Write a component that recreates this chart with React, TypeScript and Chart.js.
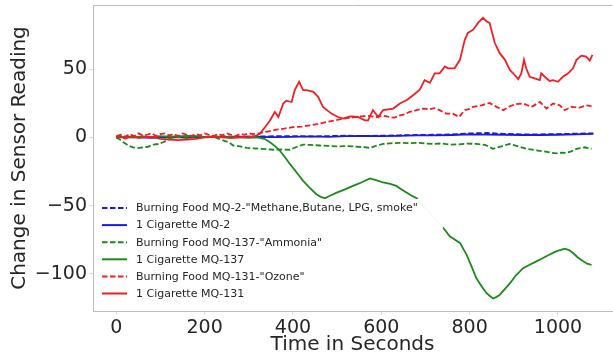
import React, { useEffect, useRef } from "react";
import { Chart, registerables } from "chart.js";

Chart.register(...registerables);

// ---------- DATA ----------
const seriesLabels = [
  'Burning Food MQ-2-"Methane,Butane, LPG, smoke"',
  "1 Cigarette MQ-2",
  'Burning Food MQ-137-"Ammonia"',
  "1 Cigarette MQ-137",
  'Burning Food MQ-131-"Ozone"',
  "1 Cigarette MQ-131",
];

const xTickValues = [0, 200, 400, 600, 800, 1000];
const yTickValues = [-100, -50, 0, 50];

const foodMQ2Time = [0, 40, 80, 120, 160, 200, 240, 280, 320, 360, 400, 440, 480, 520, 560, 600, 640, 680, 720, 760, 800, 840, 880, 920, 960, 1000, 1040, 1080];
const foodMQ2Vals = [0.2, 0.5, 0.3, 0.6, 0.4, 0.5, 0.8, 0.6, 0.8, 0.9, 1, 0.8, 1, 1.3, 1.1, 1.3, 1.6, 1.8, 2, 2.2, 3, 3.3, 2.6, 2.2, 2.3, 2.5, 2.8, 3];

const cigMQ2Time = [0, 40, 80, 120, 160, 200, 240, 280, 320, 360, 400, 440, 480, 520, 560, 600, 640, 680, 720, 760, 800, 840, 880, 920, 960, 1000, 1040, 1080];
const cigMQ2Vals = [0, 0.3, -0.3, 0.2, 0, 0.3, 0.5, 0.3, 0.5, 0.3, 0.5, 0.8, 0.5, 1, 1.2, 1, 1.2, 1.5, 1.6, 1.8, 2.2, 2.1, 2, 1.8, 1.8, 2, 2.3, 2.6];

const foodMQ137Time = [0, 8, 16, 28, 38, 50, 61, 72, 84, 95, 106, 115, 125, 140, 160, 180, 200, 220, 242, 255, 265, 280, 295, 310, 325, 340, 355, 375, 393, 408, 423, 440, 461, 480, 499, 518, 536, 555, 574, 590, 604, 620, 642, 665, 687, 700, 717, 735, 755, 775, 795, 815, 835, 853, 872, 891, 910, 928, 947, 966, 981, 996, 1008, 1019, 1030, 1042, 1060, 1076];
const foodMQ137Vals = [0, -1.5, -3.5, -6, -7.2, -7.8, -7.2, -6.8, -5.2, -4.8, -3.5, -2, -0.2, 0.5, -0.5, 0.8, 0, 0.5, -2.2, -3.5, -5.9, -6.5, -7.6, -8, -8.3, -8.6, -9, -8.8, -9, -7, -5.2, -5.5, -5.9, -6.2, -6.6, -6.3, -6.6, -7, -7.6, -6, -4.7, -4.3, -3.9, -4.2, -3.9, -4.5, -4.7, -4.4, -5.2, -5, -4.5, -4.7, -5.5, -8.3, -6.5, -4.7, -6.5, -8.3, -9.2, -10.1, -11, -11.6, -11.2, -11.3, -10.2, -8.3, -7.2, -8.3];

const cigMQ137Time = [0, 20, 40, 60, 80, 100, 120, 140, 160, 180, 200, 220, 240, 260, 280, 300, 320, 335, 348, 360, 370, 382, 393, 408, 423, 438, 453, 463, 472, 485, 499, 518, 536, 555, 574, 590, 604, 620, 634, 645, 657, 668, 680, 700, 720, 740, 755, 767, 778, 793, 805, 815, 827, 838, 845, 853, 860, 868, 880, 891, 905, 921, 936, 950, 966, 980, 996, 1005, 1015, 1025, 1034, 1045, 1057, 1066, 1076];
const cigMQ137Vals = [0, 0.5, 0, 0.8, 0.3, 1, 0.5, 0.8, 1.2, 1, 0.5, 0.8, 0.3, 0.5, 0, -0.3, 0, -1, -3.5, -6.5, -9.6, -14.5, -19.4, -25.5, -31.8, -37, -41.6, -43.5, -44.6, -42.5, -40.4, -38, -35.5, -33, -30, -31.5, -33, -34, -35.5, -38, -40.4, -42.5, -44.6, -52, -59, -66.2, -72.4, -75, -77.3, -85.9, -95, -103, -109, -114, -116, -118, -117, -115.4, -111, -106.9, -101, -95.8, -93.3, -91, -88.4, -86, -83.5, -82.5, -81.5, -82.5, -84.7, -88, -90.8, -92.5, -93.3];

const foodMQ131Time = [0, 10, 20, 30, 40, 50, 60, 70, 80, 90, 100, 110, 120, 130, 140, 150, 160, 170, 180, 190, 200, 210, 220, 230, 240, 250, 260, 270, 280, 290, 300, 310, 325, 345, 363, 380, 400, 420, 438, 457, 476, 495, 514, 532, 551, 570, 589, 604, 619, 630, 642, 653, 664, 680, 695, 710, 720, 732, 747, 762, 776, 789, 800, 808, 827, 845, 861, 876, 891, 906, 921, 940, 959, 974, 989, 1004, 1015, 1030, 1049, 1064, 1076];
const foodMQ131Vals = [1, 2, 0.5, 2.5, 1, 3, 1.5, 2, 3, 1, 2.5, 3, 1.5, 2.5, 1, 3, 2, 1, 2.5, 1.5, 3, 2, 1, 2.5, 1.5, 3, 2, 1, 2.5, 2, 3, 2.5, 3.2, 4.5, 5.7, 6.5, 7.6, 8, 8.9, 10, 11.3, 12.5, 13.8, 14.5, 15.5, 15.8, 15, 16, 15, 14.5, 16.2, 17, 18.7, 20, 21.2, 20.7, 21.5, 20, 17.5, 17.5, 15, 20, 21, 22.4, 23.6, 25.3, 22.4, 20, 22.9, 24.4, 24.9, 22.4, 26, 21.2, 24.9, 23.6, 20, 22.4, 21.9, 23.6, 22.9];

const cigMQ131Time = [0, 10, 20, 30, 40, 50, 60, 80, 100, 120, 140, 160, 180, 200, 220, 240, 260, 280, 300, 315, 325, 340, 348, 359, 367, 378, 385, 397, 404, 414, 423, 431, 446, 457, 468, 487, 502, 514, 529, 547, 563, 570, 581, 593, 604, 627, 642, 657, 672, 687, 698, 710, 721, 732, 744, 751, 766, 778, 789, 796, 808, 819, 830, 838, 845, 857, 868, 880, 891, 902, 910, 917, 923, 928, 936, 947, 959, 962, 970, 981, 989, 1000, 1011, 1023, 1034, 1042, 1053, 1064, 1072, 1078];
const cigMQ131Vals = [0, 1, -1, 0.5, 1, -0.5, 0, 0.5, -1, -1.5, -2, -1.5, -1, 0, 0.5, 0, -0.5, 0, 0.5, 1, 2.7, 9, 12.5, 18.7, 15, 24.9, 27, 26, 34.7, 40.8, 34.7, 34.7, 33.5, 29.8, 22.4, 17.5, 15, 13.8, 15.5, 15, 12.6, 12.6, 20, 15, 20, 21.2, 24.9, 27.3, 31, 35, 42, 40, 47, 47, 52, 50.7, 50.7, 56.9, 71.6, 76.6, 79, 84, 87.7, 85.2, 84, 69.2, 61.8, 56.9, 49.5, 45.8, 42.8, 47, 56.9, 50.7, 44.5, 43.3, 42, 47, 44.5, 41.4, 42, 40.8, 44.5, 47, 50.7, 56.9, 60, 59.3, 56.3, 60.6];

const seriesTimes = [foodMQ2Time, cigMQ2Time, foodMQ137Time, cigMQ137Time, foodMQ131Time, cigMQ131Time];
const seriesVals = [foodMQ2Vals, cigMQ2Vals, foodMQ137Vals, cigMQ137Vals, foodMQ131Vals, cigMQ131Vals];

const BLUE = "#1a1ae6";
const GREEN = "#1b8a1b";
const RED = "#ef1f24";
const seriesColors = [BLUE, BLUE, GREEN, GREEN, RED, RED];
const seriesDashed = [true, false, true, false, true, false];

const FONT = "'DejaVu Sans', sans-serif";
const TEXT = "#262626";
const SPINE = "#bdbdbd";
const DASH = [5.5, 2.5];

const framePlugin = {
  id: "frame",
  afterDatasetsDraw(chart: any) {
    const { ctx, chartArea } = chart;
    ctx.save();
    ctx.strokeStyle = SPINE;
    ctx.lineWidth = 1;
    ctx.beginPath();
    ctx.moveTo(chartArea.left, chartArea.top + 0.5);
    ctx.lineTo(chartArea.right, chartArea.top + 0.5);
    ctx.stroke();

    const bx = chartArea.left + 4;
    const by = 199;
    const bw = 346;
    const bh = 103;
    ctx.fillStyle = "rgba(255,255,255,0.97)";
    ctx.fillRect(bx, by, bw, bh);

    ctx.font = `11px ${FONT}`;
    ctx.textBaseline = "middle";
    ctx.textAlign = "left";
    for (let i = 0; i < seriesLabels.length; i++) {
      const y = 208 + i * 17.1;
      ctx.strokeStyle = seriesColors[i];
      ctx.lineWidth = 2;
      ctx.setLineDash(seriesDashed[i] ? DASH : []);
      ctx.beginPath();
      ctx.moveTo(102, y);
      ctx.lineTo(127, y);
      ctx.stroke();
      ctx.setLineDash([]);
      ctx.fillStyle = TEXT;
      ctx.fillText(seriesLabels[i], 136, y + 0.5);
    }
    ctx.restore();
  },
};

export default function App() {
  const ref = useRef<HTMLCanvasElement | null>(null);

  useEffect(() => {
    if (!ref.current) return;
    const datasets = seriesLabels.map((label, i) => ({
      label,
      data: seriesTimes[i].map((t, j) => ({ x: t, y: seriesVals[i][j] })),
      borderColor: seriesColors[i],
      backgroundColor: seriesColors[i],
      borderWidth: 1.8,
      borderDash: seriesDashed[i] ? DASH : [],
      pointRadius: 0,
      tension: 0,
      fill: false,
      order: seriesLabels.length - i,
    }));

    const chart = new Chart(ref.current, {
      type: "line",
      data: { datasets },
      plugins: [framePlugin],
      options: {
        responsive: false,
        animation: false,
        layout: { padding: { top: 5, right: 1, left: 0, bottom: 0 } },
        plugins: { legend: { display: false }, tooltip: { enabled: false } },
        scales: {
          x: {
            type: "linear",
            min: -52.7,
            max: 1122.3,
            afterBuildTicks: (s: any) => {
              s.ticks = xTickValues.map((v) => ({ value: v }));
            },
            afterFit: (s: any) => {
              s.height = 47;
              s.paddingLeft = 0;
              s.paddingRight = 0;
            },
            grid: { drawOnChartArea: false, drawTicks: true, tickLength: 4, color: "#dddddd" },
            border: { display: true, color: SPINE, width: 1 },
            ticks: {
              color: TEXT,
              font: { family: FONT, size: 19 },
              padding: 2,
              maxRotation: 0,
              autoSkip: false,
              callback: (v: any) => String(v),
            },
            title: {
              display: true,
              text: "Time in Seconds",
              color: TEXT,
              font: { family: FONT, size: 20 },
              padding: { top: 0, bottom: 1 },
            },
          },
          y: {
            type: "linear",
            min: -127.2,
            max: 97.1,
            afterBuildTicks: (s: any) => {
              s.ticks = yTickValues.map((v) => ({ value: v }));
            },
            afterFit: (s: any) => {
              s.width = 93;
              s.paddingTop = 0;
              s.paddingBottom = 0;
            },
            grid: { drawOnChartArea: false, drawTicks: true, tickLength: 4, color: "#dddddd" },
            border: { display: true, color: SPINE, width: 1 },
            ticks: {
              color: TEXT,
              font: { family: FONT, size: 19 },
              padding: 2,
              autoSkip: false,
              callback: (v: any) => (Number(v) < 0 ? "\u2212" + Math.abs(Number(v)) : String(v)),
            },
            title: {
              display: true,
              text: "Change in Sensor Reading",
              color: TEXT,
              font: { family: FONT, size: 20 },
              padding: { top: 8, bottom: 0 },
            },
          },
        },
      },
    } as any);
    return () => chart.destroy();
  }, []);

  return (
    <div style={{ position: "absolute", left: 0, top: 0, width: 613, height: 358, background: "#fff" }}>
      <canvas ref={ref} width={613} height={358} style={{ display: "block" }} />
    </div>
  );
}
